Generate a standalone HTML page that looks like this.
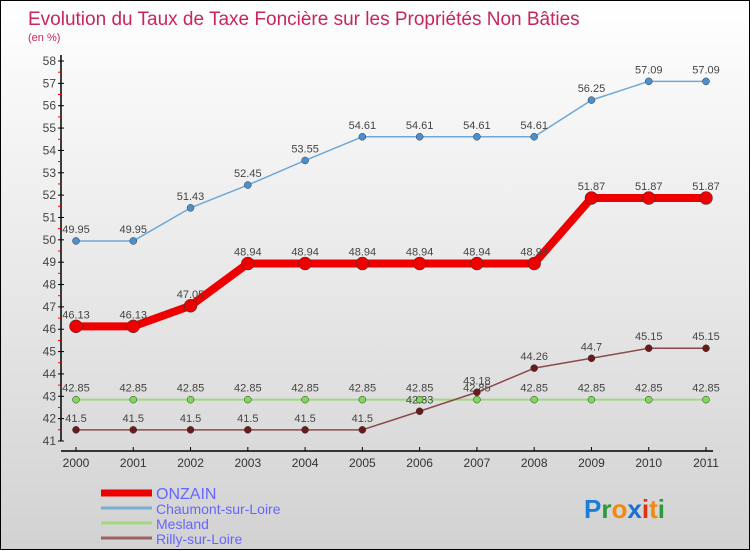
<!DOCTYPE html>
<html><head><meta charset="utf-8">
<style>
html,body{margin:0;padding:0}
body{width:750px;height:550px;overflow:hidden;font-family:"Liberation Sans","DejaVu Sans",sans-serif}
#wrap{position:relative;width:748px;height:548px;border:1px solid #000;background:linear-gradient(#ffffff,#d2d2d2)}
svg{position:absolute;left:0;top:0}
</style></head>
<body>
<div id="wrap">
<svg id="chart" width="750" height="550"></svg>
</div>
<script>
const years=[2000,2001,2002,2003,2004,2005,2006,2007,2008,2009,2010,2011];
const onzain=[46.13,46.13,47.05,48.94,48.94,48.94,48.94,48.94,48.94,51.87,51.87,51.87];
const chaumont=[49.95,49.95,51.43,52.45,53.55,54.61,54.61,54.61,54.61,56.25,57.09,57.09];
const mesland=[42.85,42.85,42.85,42.85,42.85,42.85,42.85,42.85,42.85,42.85,42.85,42.85];
const rilly=[41.5,41.5,41.5,41.5,41.5,41.5,42.33,43.18,44.26,44.7,45.15,45.15];
const yTicks=[41,42,43,44,45,46,47,48,49,50,51,52,53,54,55,56,57,58];
const NS="http://www.w3.org/2000/svg";
const svg=document.getElementById('chart');
function x(i){return 75+(705-75)*i/(years.length-1);}
function y(v){return 440-(v-41)*(440-60)/(58-41);}
function el(t,a,p){const e=document.createElementNS(NS,t);for(const k in a)e.setAttribute(k,a[k]);(p||svg).appendChild(e);return e;}
function fmt(v){return String(v);}
let t=el('text',{x:27,y:24,'font-size':19,fill:'#c8265a'});t.textContent='Evolution du Taux de Taxe Foncière sur les Propriétés Non Bâties';


t=el('text',{x:27,y:40,'font-size':11,fill:'#c8265a'});t.textContent='(en %)';


let ax=el('line',{x1:60,y1:54,x2:60,y2:440,stroke:'#000','stroke-width':1.5});


ax=el('line',{x1:60,y1:450,x2:712,y2:450,stroke:'#000','stroke-width':1.5});


yTicks.forEach(v=>{
  el('line',{x1:57,y1:y(v),x2:63,y2:y(v),stroke:'#000'});
  if(v<58) el('line',{x1:57,y1:y(v+0.5),x2:60,y2:y(v+0.5),stroke:'#e00'});
  const tt=el('text',{x:55,y:y(v)+4,'font-size':12,fill:'#444','text-anchor':'end'});tt.textContent=v;
  
  
});
years.forEach((yr,i)=>{
  el('line',{x1:x(i),y1:446,x2:x(i),y2:450,stroke:'#000'});
  const tt=el('text',{x:x(i),y:466,'font-size':12,fill:'#333','text-anchor':'middle'});tt.textContent=yr;
  
  
});
function series(data,color,w,r,dot,name){
  const g=el('g',{});
  
  
  el('polyline',{points:data.map((v,i)=>x(i)+','+y(v)).join(' '),fill:'none',stroke:color,'stroke-width':w,'stroke-linejoin':'round'},g);
  data.forEach((v,i)=>{
    const c=el('circle',{cx:x(i),cy:y(v),r:r,fill:dot,stroke:'#333','stroke-width':0.5},g);
    
    
    const l=el('text',{x:x(i),y:y(v)-8,'font-size':11,fill:'#444','text-anchor':'middle'},g);l.textContent=fmt(v);
    
    
  });
}
series(mesland,'#9fd87f',2,3.5,'#7ed957','mesland');
series(rilly,'#8b4a4a',1.5,3.5,'#6b1a1a','rilly');
series(chaumont,'#6fa8d8',1.5,3.5,'#4a90d0','chaumont');
series(onzain,'#ee0000',8,6.5,'#ee0000','onzain');
const leg=[['ONZAIN','#ee0000',7,16],['Chaumont-sur-Loire','#7aaed0',3,14],['Mesland','#9fd87f',3,14],['Rilly-sur-Loire','#a06060',3,14]];
leg.forEach((L,i)=>{
  const yy=492+i*15;
  const g=el('g',{});
  
  
  el('line',{x1:100,y1:yy,x2:151,y2:yy,stroke:L[1],'stroke-width':L[2]},g);
  const tt=el('text',{x:155,y:yy+6,'font-size':L[3],fill:'#6666ff'},g);tt.textContent=L[0];
});
const lg=el('text',{x:583,y:517,'font-size':26,'font-weight':'bold'});


[['P','#1a7fd8'],['r','#2a9a3a'],['o','#f08a10'],['x','#1a6fd0'],['i','#e03010'],['t','#f08a10'],['i','#2a9a3a']].forEach(p=>{const s=el('tspan',{fill:p[1]},lg);s.textContent=p[0];});
</script>
</body></html>
